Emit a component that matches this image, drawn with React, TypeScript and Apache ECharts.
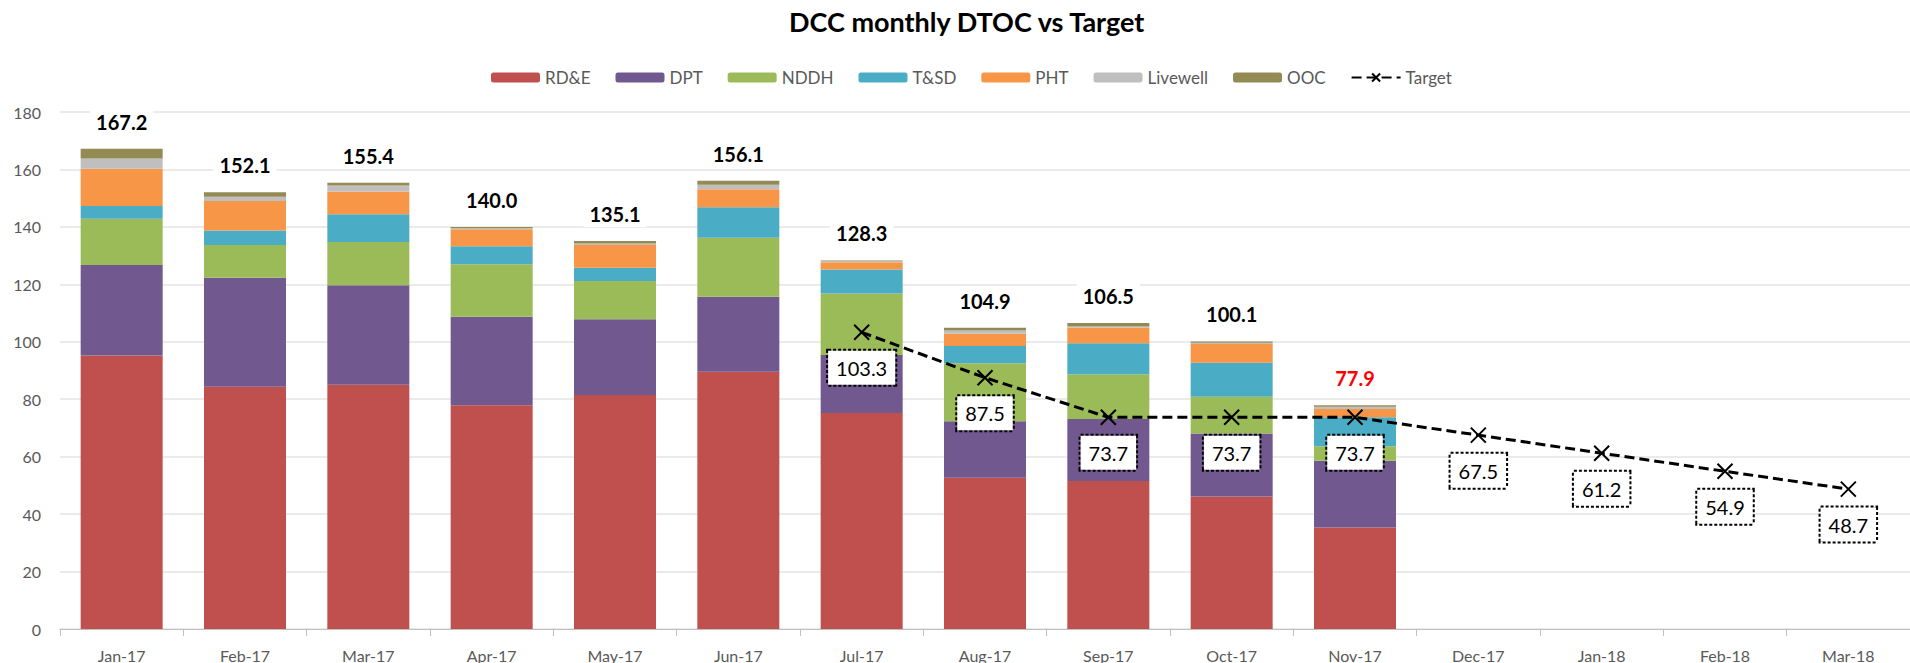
import React, { useEffect, useRef } from "react";
import * as echarts from "echarts";

const categories = [
  "Jan-17", "Feb-17", "Mar-17", "Apr-17", "May-17", "Jun-17", "Jul-17", "Aug-17",
  "Sep-17", "Oct-17", "Nov-17", "Dec-17", "Jan-18", "Feb-18", "Mar-18",
];

const rdeValues = [95.2, 84.3, 85.0, 77.9, 81.5, 89.6, 75.2, 52.7, 51.5, 46.1, 35.3];
const dptValues = [31.5, 38.0, 34.7, 30.8, 26.3, 26.1, 20.2, 19.6, 21.6, 22.0, 23.3];
const nddhValues = [16.1, 11.4, 15.0, 18.3, 13.4, 20.5, 21.4, 20.2, 15.6, 12.8, 5.0];
const tsdValues = [4.5, 5.0, 9.7, 6.3, 4.6, 10.6, 8.4, 6.0, 10.8, 11.8, 10.1];
const phtValues = [12.9, 10.3, 7.9, 5.9, 7.9, 6.3, 2.5, 4.3, 5.4, 6.5, 2.9];
const livewellValues = [3.6, 1.5, 2.1, 0.3, 0.5, 1.6, 0.3, 1.1, 0.4, 0.5, 0.8];
const oocValues = [3.4, 1.6, 1.0, 0.5, 0.9, 1.4, 0.3, 1.0, 1.2, 0.4, 0.5];
const targetValues: (number | string)[] = [
  "-", "-", "-", "-", "-", "-", 103.3, 87.5, 73.7, 73.7, 73.7, 67.5, 61.2, 54.9, 48.7,
];

const seriesNames = ["RD&E", "DPT", "NDDH", "T&SD", "PHT", "Livewell", "OOC"];
const seriesValues = [rdeValues, dptValues, nddhValues, tsdValues, phtValues, livewellValues, oocValues];
const seriesColors = ["#C0504D", "#71588F", "#9BBB59", "#4BACC6", "#F79646", "#BFBFBF", "#948A54"];

const FONT = "Lato, 'Open Sans', sans-serif";

export default function App() {
  const ref = useRef<HTMLDivElement>(null);

  useEffect(() => {
    if (!ref.current) return;
    const chart = echarts.init(ref.current, undefined, { renderer: "svg" });

    const totals = rdeValues.map((_, i) =>
      Math.round(seriesValues.reduce((s, arr) => s + arr[i], 0) * 10) / 10
    );
    const lastIdx = totals.length - 1;

    const barSeries = seriesNames.map((name, si) => {
      const isTop = si === seriesNames.length - 1;
      const data = seriesValues[si].map((v, i) => {
        if (isTop && i === lastIdx) {
          return { value: v, label: { color: "#FF0000" } };
        }
        return v;
      });
      return {
        name,
        type: "bar",
        stack: "total",
        barWidth: 82,
        itemStyle: { color: seriesColors[si] },
        data,
        label: isTop
          ? {
              show: true,
              position: "top",
              distance: 14,
              formatter: (p: any) => totals[p.dataIndex].toFixed(1),
              fontFamily: FONT,
              fontSize: 20,
              fontWeight: "bold",
              color: "#000",
              backgroundColor: "#fff",
              padding: [2, 6],
              lineHeight: 22,
            }
          : { show: false },
      };
    });

    chart.setOption({
      animation: false,
      backgroundColor: "#fff",
      textStyle: { fontFamily: FONT },
      title: {
        text: "DCC monthly DTOC vs Target",
        left: 789,
        top: 8,
        padding: 0,
        textStyle: { fontFamily: FONT, fontSize: 27, fontWeight: "bold", color: "#000" },
      },
      legend: {
        left: 486,
        top: 64,
        itemWidth: 49,
        itemHeight: 10,
        itemGap: 25,
        textStyle: { fontFamily: FONT, fontSize: 17, color: "#595959" },
        data: [...seriesNames, "Target"],
      },
      grid: { left: 60, right: 0, top: 112, bottom: 34, containLabel: false },
      xAxis: {
        type: "category",
        data: categories,
        axisLine: { lineStyle: { color: "#BFBFBF", width: 1 } },
        axisTick: { show: true, alignWithLabel: false, length: 7, lineStyle: { color: "#BFBFBF" } },
        axisLabel: { interval: 0, fontFamily: FONT, fontSize: 16, color: "#595959", margin: 18 },
      },
      yAxis: {
        type: "value",
        min: 0,
        max: 180,
        interval: 20,
        axisLine: { show: false },
        axisTick: { show: false },
        axisLabel: { fontFamily: FONT, fontSize: 16, color: "#595959", margin: 19 },
        splitLine: { lineStyle: { color: "#E4E4E4", width: 1.5 } },
      },
      series: [
        ...barSeries,
        {
          name: "Target",
          type: "line",
          data: targetValues,
          z: 5,
          symbol: "path://M0,0L10,10M10,0L0,10",
          symbolSize: 15,
          showAllSymbol: true,
          itemStyle: { color: "#000", borderColor: "#000", borderWidth: 2 },
          lineStyle: { color: "#000", width: 3, type: [10, 5] },
          label: {
            show: true,
            position: "bottom",
            distance: 10,
            fontFamily: FONT,
            fontSize: 20,
            color: "#000",
            backgroundColor: "#fff",
            borderColor: "#000",
            borderWidth: 2,
            borderType: [3, 2],
            padding: [6, 8],
            lineHeight: 22,
            formatter: (p: any) => Number(p.value).toFixed(1),
          },
        },
      ],
    });

    return () => chart.dispose();
  }, []);

  return (
    <div
      ref={ref}
      style={{ position: "fixed", left: 0, top: 0, width: 1910, height: 663 }}
    />
  );
}
